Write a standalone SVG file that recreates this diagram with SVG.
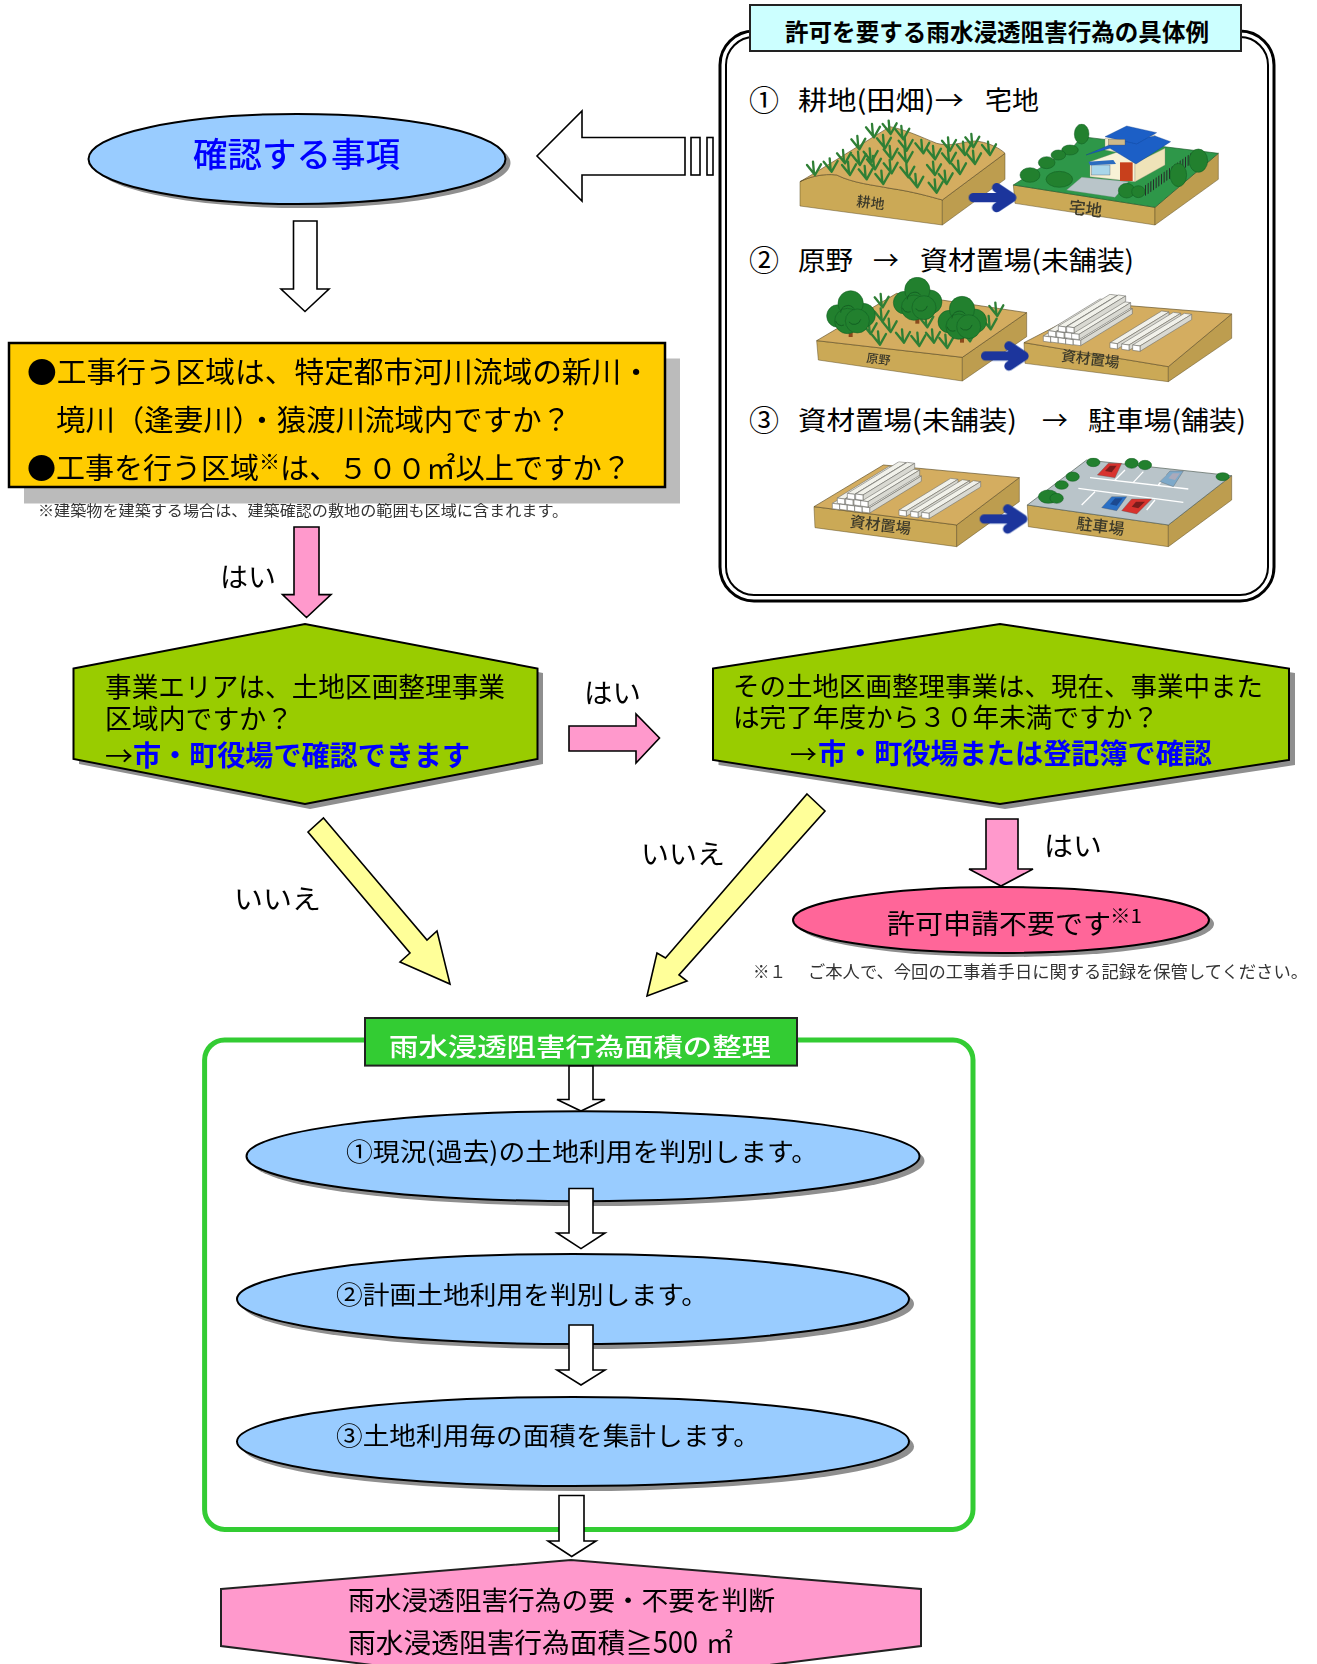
<svg xmlns="http://www.w3.org/2000/svg" width="1317" height="1664" viewBox="0 0 1317 1664">
<style>
text{font-family:"Noto Sans CJK JP","Noto Sans",sans-serif;fill:#000}
.b{font-weight:700}
.blue{fill:#00f;font-weight:700}
.shadow{fill:#8f8f8f;stroke:none}
.line{stroke:#000;stroke-width:2}
.ar{stroke:#000;stroke-width:1.6;stroke-linejoin:miter}
.w{fill:#fff}.p{fill:#f9c}.y{fill:#ff9}
.sky{fill:#9cf}.lime{fill:#9c0}
.top{fill:#d4ad60;stroke:#5f4f25;stroke-width:2}
.front{fill:#cba957;stroke:#5f4f25;stroke-width:1.5}
.right{fill:#bd9d50;stroke:#5f4f25;stroke-width:1.5}
.lab{fill:#3d3a2a;font-weight:500}
.bush{fill:#20802f;stroke:#145a20;stroke-width:1.5}
.car{stroke:#555;stroke-width:1}
.park{stroke:#fff;stroke-width:4;fill:none}
.scene{filter:url(#soft)}
</style>
<defs>
<filter id="soft" x="-5%" y="-5%" width="110%" height="110%"><feGaussianBlur stdDeviation="1.2"/></filter>
<g id="sp" fill="none" stroke="#2f7f35" stroke-width="7" stroke-linecap="round"><path d="M0,0L-24,-30M0,0L18,-32M-3,-4L-6,-40"/></g>
<path id="ba" d="M-115,0H-10M-45,-30L0,0L-45,30" fill="none" stroke="#1a369c" stroke-width="28" stroke-linecap="round" stroke-linejoin="round"/>
<g id="tree"><rect x="-6" y="45" width="12" height="28" fill="#8a4a1c"/><g class="bush"><circle cx="-38" cy="10" r="34"/><circle cx="38" cy="8" r="36"/><circle cx="0" cy="-28" r="38"/><circle cx="-10" cy="25" r="38"/><circle cx="20" cy="25" r="36"/></g><path d="M-30,0a22,22 0 0 1 40,-12M-5,28a20,20 0 0 0 35,-8M-45,25a18,18 0 0 0 25,12" fill="none" stroke="#145a20" stroke-width="2.500"/></g>
<g id="tm" fill="#f1f1ea" stroke="#6f6f6a" stroke-width="1.800" stroke-linejoin="round"><path d="M0,0L155,-95L177,-92L22,3Z"/><path d="M22,3L177,-92V-76L22,19Z" fill="#d9d9d2"/><path d="M0,0L22,3V19L0,16Z" fill="#fff"/></g>
<g id="piles">
<use href="#tm" x="730" y="198"/><use href="#tm" x="752" y="200"/><use href="#tm" x="775" y="203"/><use href="#tm" x="797" y="206"/><use href="#tm" x="820" y="208"/>
<use href="#tm" x="745" y="182"/><use href="#tm" x="770" y="185"/><use href="#tm" x="795" y="187"/><use href="#tm" x="815" y="190"/>
<use href="#tm" x="775" y="168"/><use href="#tm" x="800" y="170"/>
<use href="#tm" x="930" y="218"/><use href="#tm" x="965" y="222"/><use href="#tm" x="998" y="225"/>
</g>
</defs>
<rect width="1317" height="1664" fill="#fff"/>

<g id="node-examples">
<rect x="720" y="31" width="554" height="570" rx="34" fill="#fff" stroke="#000" stroke-width="3"/>
<rect x="726" y="37" width="542" height="558" rx="28" fill="none" stroke="#000" stroke-width="2"/>
<rect x="750" y="5" width="491" height="46" fill="#cff" stroke="#222" stroke-width="2"/>
<text class="b" x="785" y="41" font-size="23.500" textLength="424" lengthAdjust="spacingAndGlyphs">許可を要する雨水浸透阻害行為の具体例</text>
<g font-size="26.500">
<text x="749" y="110.500" font-size="30" textLength="30" lengthAdjust="spacingAndGlyphs">①</text>
<text x="798" y="110" textLength="166" lengthAdjust="spacingAndGlyphs">耕地(田畑)→</text>
<text x="985" y="110" textLength="54" lengthAdjust="spacingAndGlyphs">宅地</text>
<text x="749" y="270.500" font-size="30" textLength="30" lengthAdjust="spacingAndGlyphs">②</text>
<text x="798" y="270" textLength="55" lengthAdjust="spacingAndGlyphs">原野</text>
<text x="873" y="270" textLength="26" lengthAdjust="spacingAndGlyphs">→</text>
<text x="920" y="270" textLength="214" lengthAdjust="spacingAndGlyphs">資材置場(未舗装)</text>
<text x="749" y="430.500" font-size="30" textLength="30" lengthAdjust="spacingAndGlyphs">③</text>
<text x="798" y="430" textLength="219" lengthAdjust="spacingAndGlyphs">資材置場(未舗装)</text>
<text x="1042" y="430" textLength="26" lengthAdjust="spacingAndGlyphs">→</text>
<text x="1088" y="430" textLength="158" lengthAdjust="spacingAndGlyphs">駐車場(舗装)</text>
</g>
<g id="scene-1" class="scene" transform="translate(780 120) scale(.33333)">
<path class="front" d="M60,185C90,170 130,160 170,165C220,190 280,195 330,205C400,215 450,230 487,240V315L60,258Z"/>
<path class="right" d="M487,240L675,100V178L487,315Z"/>
<path class="top" d="M60,185C120,150 200,100 330,20C380,30 420,50 470,70C520,85 570,55 600,65C630,70 660,85 675,100L487,240C450,230 400,215 330,205C280,195 220,190 170,165C130,160 90,170 60,185Z"/>
<use href="#sp" x="105" y="165"/><use href="#sp" x="155" y="155"/><use href="#sp" x="195" y="130"/><use href="#sp" x="210" y="165"/><use href="#sp" x="240" y="135"/><use href="#sp" x="260" y="178"/><use href="#sp" x="238" y="88"/><use href="#sp" x="282" y="52"/><use href="#sp" x="332" y="42"/><use href="#sp" x="275" y="125"/><use href="#sp" x="285" y="148"/><use href="#sp" x="310" y="192"/><use href="#sp" x="335" y="160"/><use href="#sp" x="315" y="85"/><use href="#sp" x="335" y="118"/><use href="#sp" x="380" y="128"/><use href="#sp" x="370" y="58"/><use href="#sp" x="380" y="92"/><use href="#sp" x="430" y="100"/><use href="#sp" x="465" y="118"/><use href="#sp" x="385" y="172"/><use href="#sp" x="412" y="202"/><use href="#sp" x="465" y="165"/><use href="#sp" x="470" y="218"/><use href="#sp" x="500" y="192"/><use href="#sp" x="510" y="130"/><use href="#sp" x="540" y="162"/><use href="#sp" x="510" y="92"/><use href="#sp" x="555" y="105"/><use href="#sp" x="580" y="82"/><use href="#sp" x="585" y="132"/><use href="#sp" x="630" y="105"/>
<text class="lab" font-size="42" transform="translate(228 258) rotate(7)">耕地</text>
<path class="front" d="M700,195L1125,262V315L705,250Z"/>
<path class="right" d="M1125,262L1315,100V178L1125,315Z"/>
<path d="M700,195L880,80L905,50L1315,100L1125,262Z" fill="#2f9748" stroke="#1e5a2c" stroke-width="2"/>
<path d="M860,210L905,172L1045,185L1005,232Z" fill="#b9c5c9" stroke="#8a9599"/>
<path transform="translate(1095 212) skewY(-35)" d="M0,0H145" stroke="#262c2a" stroke-width="32" stroke-dasharray="3 5" fill="none"/>
<g class="bush"><ellipse cx="905" cy="42" rx="22" ry="30"/><ellipse cx="870" cy="90" rx="25" ry="15"/><ellipse cx="835" cy="105" rx="22" ry="15"/><ellipse cx="800" cy="128" rx="25" ry="18"/><ellipse cx="750" cy="165" rx="30" ry="22"/><ellipse cx="838" cy="178" rx="40" ry="24"/><ellipse cx="1195" cy="165" rx="25" ry="35"/><ellipse cx="1255" cy="122" rx="28" ry="35"/><ellipse cx="1040" cy="212" rx="25" ry="22"/><ellipse cx="1075" cy="215" rx="20" ry="18"/></g>
<path d="M930,125L1015,95L1065,130V185L930,170Z" fill="#f8f2d6" stroke="#887"/>
<path d="M1065,130L1155,85V135L1065,185Z" fill="#efe3b8" stroke="#887"/>
<rect x="1020" y="127" width="38" height="56" fill="#c8401c"/>
<rect x="935" y="135" width="55" height="30" fill="#a9d6ea" stroke="#445"/>
<path d="M925,125L1000,120L1008,132L930,136Z" fill="#2a6cc0"/>
<path d="M975,55L1125,45V75L1050,105L975,90Z" fill="#f3eccb" stroke="#887"/>
<path d="M918,105L990,85L1068,132L1172,65L1125,48L1000,70Z" fill="#1c5ec6" stroke="#123f8a"/>
<path d="M975,50L1040,18L1130,38L1070,72Z" fill="#1c5ec6" stroke="#123f8a"/>
<rect x="985" y="58" width="50" height="17" fill="#cdb98a" stroke="#555"/>
<text class="lab" font-size="50" transform="translate(865 278) rotate(7)">宅地</text>
<use href="#ba" x="695" y="233"/>
</g>
<g id="scene-2" class="scene" transform="translate(800 270) scale(.33333)">
<path class="front" d="M50,212L487,262V333L55,270Z"/>
<path class="right" d="M487,262L680,128V200L487,333Z"/>
<path class="top" d="M50,212L290,70L680,128L487,262Z"/>
<use href="#sp" x="248" y="112"/><use href="#sp" x="592" y="138"/><use href="#sp" x="248" y="155"/><use href="#sp" x="382" y="172"/><use href="#sp" x="212" y="192"/><use href="#sp" x="272" y="186"/><use href="#sp" x="240" y="224"/><use href="#sp" x="312" y="218"/><use href="#sp" x="358" y="228"/><use href="#sp" x="402" y="218"/><use href="#sp" x="442" y="234"/><use href="#sp" x="510" y="214"/><use href="#sp" x="572" y="178"/>
<use href="#tree" x="152" y="128"/><use href="#tree" x="352" y="88"/><use href="#tree" x="486" y="145"/>
<text class="lab" font-size="36" transform="translate(198 276) rotate(7)">原野</text>
<path class="front" d="M672,218L1105,290V335L675,280Z"/>
<path class="right" d="M1105,290L1295,132V205L1105,335Z"/>
<path class="top" d="M672,218L900,100L1295,132L1105,290Z"/>
<use href="#piles"/>
<text class="lab" font-size="44" transform="translate(782 272) rotate(7)">資材置場</text>
<use href="#ba" x="672" y="258"/>
</g>
<g id="scene-3" class="scene" transform="translate(800 445) scale(.33333)">
<path class="front" d="M42,185L470,240V305L45,248Z"/>
<path class="right" d="M470,240L658,98V170L470,305Z"/>
<path class="top" d="M42,185L250,60L658,98L470,240Z"/>
<use href="#piles" x="-633" y="-23"/>
<text class="lab" font-size="46" transform="translate(148 245) rotate(7)">資材置場</text>
<path class="front" d="M682,180L1105,240V305L685,245Z"/>
<path class="right" d="M1105,240L1295,92V165L1105,305Z"/>
<path d="M682,180L860,45L1295,92L1105,240Z" fill="#b9c4c9" stroke="#4d5a52" stroke-width="2"/>
<path class="park" d="M870,98L1165,132M835,130L1150,172M945,105L975,75M1000,112L1030,80M1075,120L1100,90M845,180L885,140M1040,195L1065,165"/>
<path class="car" d="M892,90L925,55H965L945,98Z" fill="#d8332e"/><path d="M915,78L930,62H950L935,82Z" fill="#7a1f1c"/>
<path class="car" d="M1080,110L1110,78H1150L1120,125Z" fill="#7ea9c9"/><path d="M1105,100L1118,85H1140L1125,105Z" fill="#aab"/>
<path class="car" d="M905,188L935,155H980L950,197Z" fill="#2a6fc6"/><path d="M930,178L945,160H968L950,182Z" fill="#1a4a90"/>
<path class="car" d="M965,197L995,162H1055L1010,207Z" fill="#d8332e"/><path d="M995,185L1008,170H1035L1015,190Z" fill="#7a1f1c"/>
<g class="bush"><ellipse cx="880" cy="52" rx="20" ry="13"/><ellipse cx="995" cy="55" rx="20" ry="15"/><ellipse cx="1035" cy="60" rx="20" ry="14"/><ellipse cx="818" cy="95" rx="20" ry="14"/><ellipse cx="785" cy="120" rx="20" ry="13"/><ellipse cx="745" cy="155" rx="30" ry="20"/><ellipse cx="770" cy="160" rx="20" ry="15"/><ellipse cx="1268" cy="95" rx="20" ry="12"/></g>
<text class="lab" font-size="48" transform="translate(828 252) rotate(7)">駐車場</text>
<use href="#ba" x="668" y="222"/>
</g>
</g>

<g id="node-check">
<ellipse class="shadow" cx="302" cy="163" rx="208.500" ry="45"/>
<ellipse class="sky line" cx="297" cy="159" rx="208.500" ry="45"/>
<text class="blue" style="font-weight:500" x="193" y="167" font-size="34" textLength="207" lengthAdjust="spacingAndGlyphs">確認する事項</text>
</g>

<g id="node-area">
<rect x="24" y="358.500" width="656" height="145" fill="#bbb"/>
<rect x="9" y="343" width="656" height="144" fill="#fc0" stroke="#000" stroke-width="2.500"/>
<g font-size="29">
<text x="27" y="383.400" textLength="624" lengthAdjust="spacingAndGlyphs">●工事行う区域は、特定都市河川流域の新川・</text>
<text x="56" y="431" textLength="515" lengthAdjust="spacingAndGlyphs">境川（逢妻川）・猿渡川流域内ですか？</text>
<text x="27" y="479" textLength="232" lengthAdjust="spacingAndGlyphs">●工事を行う区域</text>
<text x="259" y="469" font-size="21">※</text>
<text x="280" y="479" textLength="351" lengthAdjust="spacingAndGlyphs">は、５００㎡以上ですか？</text>
</g>
<text x="38" y="516" font-size="15.300" style="fill:#333" textLength="530" lengthAdjust="spacingAndGlyphs">※建築物を建築する場合は、建築確認の敷地の範囲も区域に含まれます。</text>
</g>

<g id="node-q1">
<path class="shadow" d="M79,673L310,628L543,673V764L310,809L79,764Z"/>
<path class="lime line" d="M73.500,668.500L305,624L537.500,668.500V759L305,804L73.500,759Z"/>
<g font-size="26.800">
<text x="105" y="697" textLength="400" lengthAdjust="spacingAndGlyphs">事業エリアは、土地区画整理事業</text>
<text x="105" y="729" textLength="188" lengthAdjust="spacingAndGlyphs">区域内ですか？</text>
<text x="105" y="766" textLength="28" lengthAdjust="spacingAndGlyphs">→</text>
<text class="blue" x="133" y="766" font-size="28" textLength="337" lengthAdjust="spacingAndGlyphs">市・町役場で確認できます</text>
</g>
</g>

<g id="node-q2">
<path class="shadow" d="M718.500,673L1005,628L1295,673V765L1005,809L718.500,765Z"/>
<path class="lime line" d="M713,668.500L1000,624L1289,668.500V760L1000,804L713,760Z"/>
<g font-size="26.500">
<text x="733" y="696" textLength="530" lengthAdjust="spacingAndGlyphs">その土地区画整理事業は、現在、事業中また</text>
<text x="733" y="727" textLength="426" lengthAdjust="spacingAndGlyphs">は完了年度から３０年未満ですか？</text>
<text x="790" y="763.500" textLength="27" lengthAdjust="spacingAndGlyphs">→</text>
<text class="blue" x="818" y="763.500" font-size="28" textLength="394" lengthAdjust="spacingAndGlyphs">市・町役場または登記簿で確認</text>
</g>
</g>

<g id="node-noneed">
<ellipse class="shadow" cx="1006" cy="924" rx="208" ry="33"/>
<ellipse class="line" cx="1001" cy="920" rx="208" ry="33" fill="#f69"/>
<text x="887" y="934" font-size="27.500" textLength="224" lengthAdjust="spacingAndGlyphs">許可申請不要です</text>
<text x="1110" y="923" font-size="19" textLength="32" lengthAdjust="spacingAndGlyphs">※1</text>
<text x="753" y="978" font-size="17" style="fill:#333" textLength="33" lengthAdjust="spacingAndGlyphs">※１</text>
<text x="808" y="978" font-size="17" style="fill:#333" textLength="500" lengthAdjust="spacingAndGlyphs">ご本人で、今回の工事着手日に関する記録を保管してください。</text>
</g>

<g id="node-organize">
<rect x="204.600" y="1040" width="768.400" height="489.400" rx="20" fill="none" stroke="#3c3" stroke-width="5"/>
<rect x="365" y="1018" width="432" height="47.600" fill="#3c3" stroke="#222" stroke-width="2"/>
<text x="389" y="1056" font-size="25.500" style="fill:#fff;font-weight:500" textLength="382" lengthAdjust="spacingAndGlyphs">雨水浸透阻害行為面積の整理</text>
</g>

<g id="node-step1">
<ellipse class="shadow" cx="588" cy="1161" rx="336.500" ry="45"/>
<ellipse class="sky line" cx="583" cy="1156.200" rx="336.500" ry="45"/>
<text x="346" y="1161" font-size="25.500" textLength="472" lengthAdjust="spacingAndGlyphs">①現況(過去)の土地利用を判別します。</text>
</g>
<g id="node-step2">
<ellipse class="shadow" cx="578" cy="1304" rx="336" ry="45"/>
<ellipse class="sky line" cx="573" cy="1299" rx="336" ry="45"/>
<text x="336" y="1304" font-size="25.500" textLength="372" lengthAdjust="spacingAndGlyphs">②計画土地利用を判別します。</text>
</g>
<g id="node-step3">
<ellipse class="shadow" cx="578" cy="1446.500" rx="336" ry="44.500"/>
<ellipse class="sky line" cx="573" cy="1441.500" rx="336" ry="44.500"/>
<text x="336" y="1445" font-size="25.500" textLength="424" lengthAdjust="spacingAndGlyphs">③土地利用毎の面積を集計します。</text>
</g>

<g id="node-result">
<path d="M221,1589L571,1560L921,1589V1646L571,1690L221,1646Z" fill="#f9c" stroke="#222" stroke-width="2"/>
<text x="348" y="1609.500" font-size="26.600" textLength="427" lengthAdjust="spacingAndGlyphs">雨水浸透阻害行為の要・不要を判断</text>
<text x="348" y="1653" font-size="27" textLength="305" lengthAdjust="spacingAndGlyphs">雨水浸透阻害行為面積≧</text>
<text x="653" y="1653" font-size="30" textLength="45" lengthAdjust="spacingAndGlyphs">500</text>
<text x="706" y="1653" font-size="27" textLength="27" lengthAdjust="spacingAndGlyphs">㎡</text>
</g>

<g id="connectors">
<path class="ar w" d="M685,137.500H582V111L537,156L582,201V175H685Z"/>
<rect class="ar w" x="691" y="137.500" width="9" height="37.500"/>
<rect class="ar w" x="707" y="137.500" width="6" height="37.500"/>
<path class="ar w" d="M293.500,221H317V289H329L305,311.500L281,289H293.500Z"/>
<path class="ar p" d="M294,527H319V594.600H331L306.500,617.500L282.500,594.600H294Z"/>
<path class="ar p" d="M569,726H636V714L659.500,738L636,763V751H569Z"/>
<path class="ar p" d="M986,819H1018V869H1033L1001,886L969,869H986Z"/>
<path class="ar y" d="M323.500,818L427,940L437,931L450,984L400,962L410,953L308,832Z"/>
<path class="ar y" d="M807,794L825,811L679,975L687,981L647,996L657,953L665.500,958Z"/>
<path class="ar w" d="M569,1066H593V1099.500H605L581,1111L557,1099.500H569Z"/>
<path class="ar w" d="M569,1188.500H593V1233H605L581,1248.600L557,1233H569Z"/>
<path class="ar w" d="M569,1325H593V1370H605L581,1385L557,1370H569Z"/>
<path class="ar w" d="M559,1495.500H584V1541H596L571.700,1556.500L548,1541H559Z"/>
<g font-size="27">
<text x="220" y="587" textLength="56" lengthAdjust="spacingAndGlyphs">はい</text>
<text x="584" y="703" textLength="57" lengthAdjust="spacingAndGlyphs">はい</text>
<text x="1044" y="856" textLength="58" lengthAdjust="spacingAndGlyphs">はい</text>
<text x="234" y="908.500" textLength="87" lengthAdjust="spacingAndGlyphs">いいえ</text>
<text x="641" y="863.500" textLength="84" lengthAdjust="spacingAndGlyphs">いいえ</text>
</g>
</g>
</svg>
